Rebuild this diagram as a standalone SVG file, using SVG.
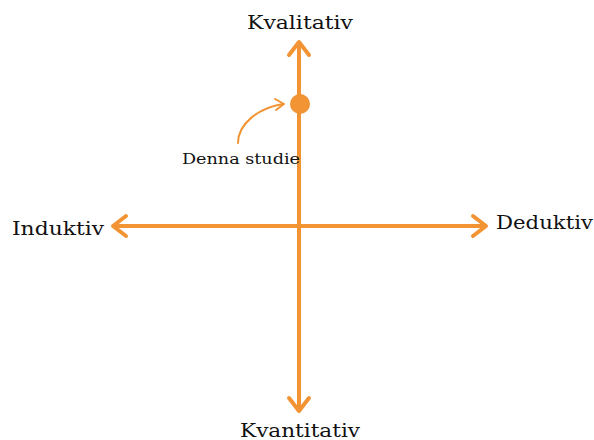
<svg xmlns="http://www.w3.org/2000/svg" width="594" height="440" viewBox="0 0 594 440">
<style>
.ax{stroke:#F29334;stroke-width:4;fill:none;stroke-linecap:round;stroke-linejoin:round}
.ah{stroke:#F29334;stroke-width:4;fill:none;stroke-linecap:round;stroke-linejoin:round}
.lbl{font-family:"DejaVu Serif","Liberation Serif",serif;font-size:19px;fill:#111}
.sm{font-family:"DejaVu Serif","Liberation Serif",serif;font-size:14px;fill:#111}
</style>
<rect width="594" height="440" fill="#fff"/>
<g id="connectors">
<line class="ax" x1="299" y1="44" x2="299" y2="410"/>
<line class="ax" x1="115" y1="226" x2="484" y2="226"/>
<polyline class="ah" points="289,55 299,42 309,55"/>
<polyline class="ah" points="289,398 299,411 309,398"/>
<polyline class="ah" points="126,216 113,226 126,236"/>
<polyline class="ah" points="473,216 486,226 473,236"/>
<path d="M238,143 C238,124 258,108 283,104" stroke="#F29334" stroke-width="2" fill="none" stroke-linecap="round"/>
<polyline points="275,99 284,104 276,110" stroke="#F29334" stroke-width="2" fill="none" stroke-linecap="round" stroke-linejoin="round"/>
</g>
<g id="point"><circle cx="300" cy="104" r="10" fill="#F29334"/></g>
<g id="kvalitativ"><text class="lbl" x="247" y="29" textLength="106" lengthAdjust="spacingAndGlyphs">Kvalitativ</text></g>
<g id="kvantitativ"><text class="lbl" x="240" y="437" textLength="120" lengthAdjust="spacingAndGlyphs">Kvantitativ</text></g>
<g id="induktiv"><text class="lbl" x="12" y="235" textLength="92" lengthAdjust="spacingAndGlyphs">Induktiv</text></g>
<g id="deduktiv"><text class="lbl" x="496" y="229" textLength="97" lengthAdjust="spacingAndGlyphs">Deduktiv</text></g>
<g id="denna"><text class="sm" x="182" y="164" textLength="118" lengthAdjust="spacingAndGlyphs">Denna studie</text></g>
</svg>
